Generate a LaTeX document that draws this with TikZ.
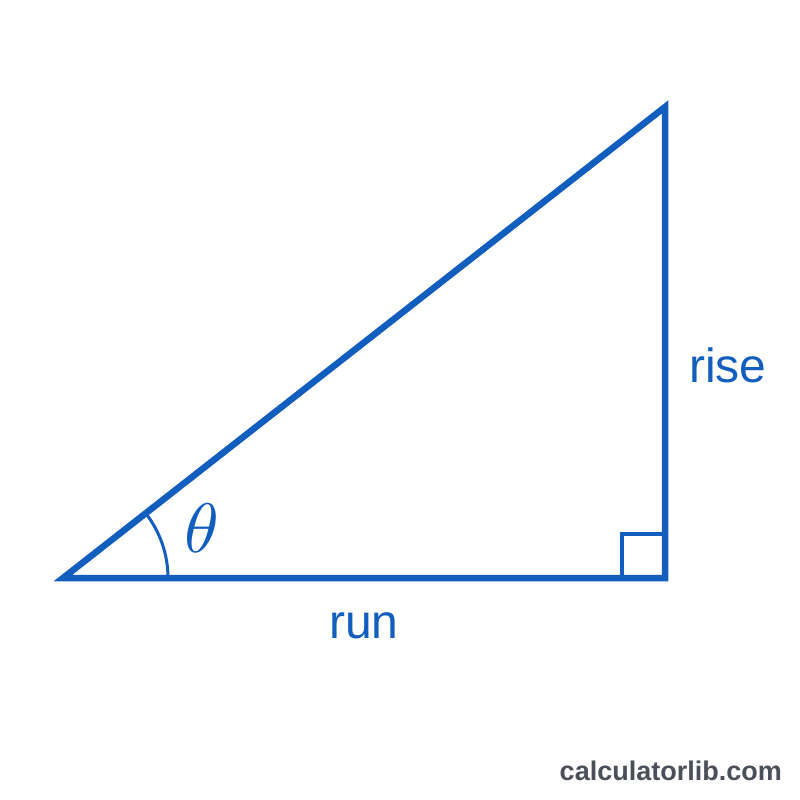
\documentclass[tikz,border=0pt]{standalone}
\usepackage{fontspec}
\setmainfont{Liberation Sans}
\definecolor{triblue}{RGB}{18,94,190}
\definecolor{brand}{RGB}{74,79,90}
\begin{document}
\begin{tikzpicture}[x=1pt,y=-1pt,
  edge/.style={draw=triblue,line width=6.5pt,line join=miter},
  rightmark/.style={draw=triblue,line width=4pt},
  angarc/.style={draw=triblue,line width=3pt},
  lbl/.style={text=triblue,font=\fontsize{48}{50}\selectfont,inner sep=0pt},
]
\useasboundingbox[fill=white] (0,0) rectangle (800,800);
\coordinate (A) at (63,578);
\coordinate (B) at (665,578);
\coordinate (C) at (665,107);
\draw[edge] (A) -- (B) -- (C) -- cycle;
\draw[rightmark] (B) ++(-43,0) coordinate (s1) -- ++(0,-44) coordinate (s2) -- ++(43,0);
\draw[angarc] (A) ++(105,0) arc[start angle=0,end angle=-38,radius=105];
\node[text=triblue,inner sep=0pt,scale=7] (theta) at (202,528) {$\theta$};
\node[lbl,anchor=base west] (rise) at (689,382) {rise};
\node[lbl,anchor=base] (run) at (364,638) {run};
\node[text=brand,inner sep=0pt,font=\bfseries\fontsize{27}{29}\selectfont,anchor=base east] (brand) at (782,780) {calculatorlib.com};
\end{tikzpicture}
\end{document}
